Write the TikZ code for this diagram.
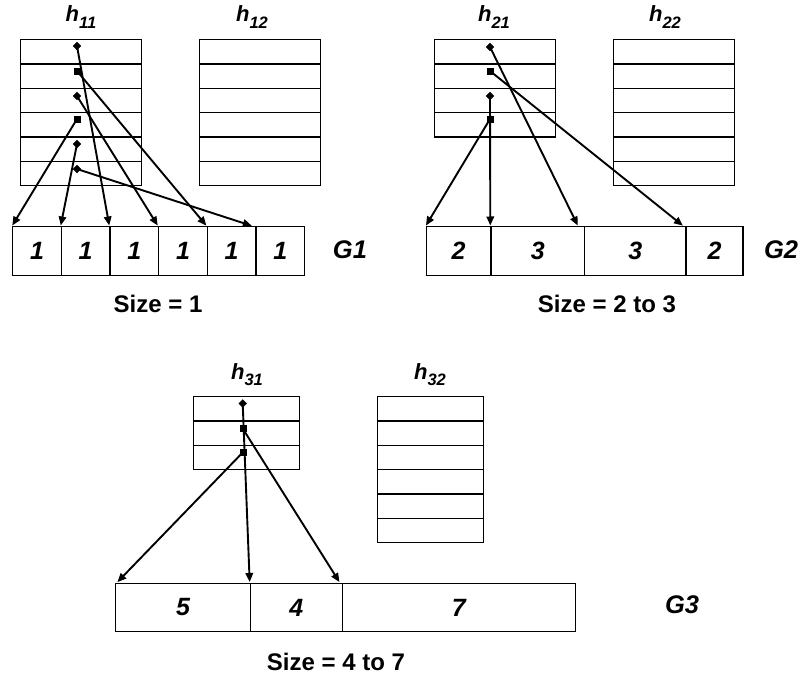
\documentclass[tikz,border=0pt]{standalone}
\usepackage{fontspec}
\setmainfont{Liberation Sans}
\usetikzlibrary{arrows.meta}
\newcommand\hsubx[1]{\raisebox{-6.5pt}{\fontsize{16.5}{16.5}\selectfont #1}}
\begin{document}
\begin{tikzpicture}[x=1pt,y=-1pt,
  row/.style={draw, line width=1.3pt, minimum width=121pt, minimum height=24.33pt, inner sep=0pt, anchor=north west},
  row3/.style={row, minimum width=106pt},
  cell/.style={draw, line width=1.3pt, minimum height=48.5pt, inner sep=0pt, anchor=north west,
    font=\fontsize{25}{25}\selectfont\bfseries\itshape},
  hlab/.style={anchor=base, inner sep=0pt, font=\fontsize{22}{22}\selectfont\bfseries\itshape},
  glab/.style={anchor=base, inner sep=0pt, font=\fontsize{25.5}{25.5}\selectfont\bfseries\itshape},
  slab/.style={anchor=base, inner sep=0pt, font=\fontsize{24}{24}\selectfont\bfseries},
  sqmark/.style={fill, draw, minimum size=6pt, inner sep=0pt},
  dmark/.style={fill, draw, minimum size=5.5pt, inner sep=0pt, rotate=45},
  link/.style={line width=1.9pt, -{Triangle[length=9pt,width=7.5pt]}, shorten >=0.5pt}]
\useasboundingbox (0,0) rectangle (803,682);

% ---------- G1 ----------
\node[hlab] (lh11) at (81,22) {h\hsubx{11}};
\node[hlab] (lh12) at (252,22) {h\hsubx{12}};
\foreach \i in {0,...,5}{
  \node[row] (h11r\i) at (20,39+24.33*\i) {};
  \node[row] (h12r\i) at (199,39+24.33*\i) {};
}
\node[cell, minimum width=48.67pt] (g1a) at (12,226) {1};
\node[cell, minimum width=48.67pt] (g1b) at (60.67,226) {1};
\node[cell, minimum width=48.67pt] (g1c) at (109.33,226) {1};
\node[cell, minimum width=48.67pt] (g1d) at (158,226) {1};
\node[cell, minimum width=48.67pt] (g1e) at (206.67,226) {1};
\node[cell, minimum width=48.67pt] (g1f) at (255.33,226) {1};
\node[glab] (lg1) at (350,258) {G1};
\node[slab] (s1) at (158,312) {Size = 1};

\node[dmark] (m11) at (77,46) {};
\node[sqmark] (m12) at (77,71) {};
\node[dmark] (m13) at (77,96) {};
\node[sqmark] (m14) at (77,119) {};
\node[dmark] (m15) at (77,144) {};
\node[dmark] (m16) at (77,169) {};
\draw[link] (m11.center) -- (g1c.north west);
\draw[link] (m12.center) -- (g1e.north west);
\draw[link] (m13.center) -- (g1d.north west);
\draw[link] (m14.center) -- (g1a.north west);
\draw[link] (m15.center) -- (g1b.north west);
\draw[link] (m16.center) -- ([xshift=-3pt]g1f.north west);

% ---------- G2 ----------
\node[hlab] (lh21) at (494,22) {h\hsubx{21}};
\node[hlab] (lh22) at (665,22) {h\hsubx{22}};
\foreach \i in {0,...,3}{
  \node[row] (h21r\i) at (434,39+24.33*\i) {};
}
\foreach \i in {0,...,5}{
  \node[row] (h22r\i) at (612.5,39+24.33*\i) {};
}
\node[cell, minimum width=64.6pt] (g2a) at (425.7,226) {2};
\node[cell, minimum width=93.7pt] (g2b) at (490.3,226) {3};
\node[cell, minimum width=101.3pt] (g2c) at (584,226) {3};
\node[cell, minimum width=57pt] (g2d) at (685.3,226) {2};
\node[glab] (lg2) at (781,258) {G2};
\node[slab] (s2) at (607,312) {Size = 2 to 3};

\node[dmark] (m21) at (490,47) {};
\node[sqmark] (m22) at (490,71) {};
\node[dmark] (m23) at (490,96) {};
\node[sqmark] (m24) at (490,119) {};
\draw[link] (m21.center) -- ([xshift=-6pt]g2c.north west);
\draw[link] (m22.center) -- ([xshift=-2pt]g2d.north west);
\draw[link] (m23.center) -- (g2b.north west);
\draw[link] (m24.center) -- (g2a.north west);

% ---------- G3 ----------
\node[hlab] (lh31) at (247,379) {h\hsubx{31}};
\node[hlab] (lh32) at (430,379) {h\hsubx{32}};
\foreach \i in {0,...,2}{
  \node[row3] (h31r\i) at (193,396+24.33*\i) {};
}
\foreach \i in {0,...,5}{
  \node[row3] (h32r\i) at (376.7,396+24.33*\i) {};
}
\node[cell, minimum width=134.7pt] (g3a) at (115,582.5) {5};
\node[cell, minimum width=92pt] (g3b) at (249.7,582.5) {4};
\node[cell, minimum width=233pt] (g3c) at (341.7,582.5) {7};
\node[glab] (lg3) at (682,613) {G3};
\node[slab] (s3) at (336,670) {Size = 4 to 7};

\node[dmark] (m31) at (242.7,403.5) {};
\node[sqmark] (m32) at (242.7,428.5) {};
\node[sqmark] (m33) at (242.7,452.5) {};
\draw[link] (m31.center) -- (g3b.north west);
\draw[link] (m32.center) -- ([xshift=-2pt]g3c.north west);
\draw[link] (m33.center) -- ([xshift=2pt]g3a.north west);
\end{tikzpicture}
\end{document}
